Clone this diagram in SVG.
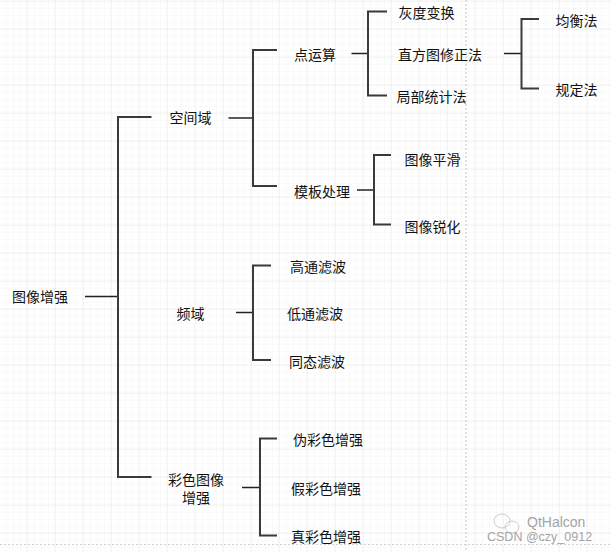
<svg xmlns="http://www.w3.org/2000/svg" width="611" height="552" viewBox="0 0 611 552">
<defs>
<pattern id="minor" x="27" y="1" width="7" height="7" patternUnits="userSpaceOnUse">
<path d="M0 0V7M0 0H7" fill="none" stroke="#f5f5f5" stroke-width="1"/>
</pattern>
<pattern id="major" x="26.5" y="0.5" width="28" height="28" patternUnits="userSpaceOnUse">
<path d="M0 0V28M0 0H28" fill="none" stroke="#e6e6e6" stroke-width="1"/>
</pattern>
</defs>
<style>
text{font-family:"Noto Sans CJK SC","Liberation Sans",sans-serif;font-size:14px;fill:#111;dominant-baseline:central;text-anchor:middle}
.br{fill:none;stroke:#3a3a3a;stroke-width:2}
.st{fill:none;stroke:#222;stroke-width:1.5}
.wm{font-family:"Liberation Sans",sans-serif;fill:#9a9a9a;text-anchor:start}
</style>
<rect width="611" height="552" fill="#ffffff"/>
<rect width="611" height="552" fill="url(#minor)"/>
<rect width="611" height="552" fill="url(#major)"/>
<line x1="466" y1="0" x2="466" y2="552" stroke="#cfcfcf" stroke-width="1.2" stroke-dasharray="2,2"/>
<line x1="0" y1="544.5" x2="611" y2="544.5" stroke="#cfcfcf" stroke-width="1.2" stroke-dasharray="2,2"/>
<g id="connectors">
<path class="st" d="M85 296.5H118"/>
<path class="br" d="M151.5 117H118V477H151.5"/>
<path class="st" d="M228.5 118H253"/>
<path class="br" d="M277 50H253V186H277"/>
<path class="st" d="M351.5 53.5H368"/>
<path class="br" d="M387 11.5H368V95.5H387"/>
<path class="st" d="M504 53.5H521.5"/>
<path class="br" d="M539 19H521.5V88.5H539"/>
<path class="st" d="M357 190H374"/>
<path class="br" d="M391 155H374V224.5H391"/>
<path class="st" d="M236 312.5H253"/>
<path class="br" d="M271 265.5H253V360H271"/>
<path class="st" d="M242 487.5H260"/>
<path class="br" d="M277 438.5H260V535.5H277"/>
</g>
<g id="n-root"><text x="40" y="296">图像增强</text></g>
<g id="n-spatial"><text x="190.5" y="116.5">空间域</text></g>
<g id="n-point"><text x="315" y="53.5">点运算</text></g>
<g id="n-template"><text x="322" y="190.5">模板处理</text></g>
<g id="n-gray"><text x="426.5" y="12">灰度变换</text></g>
<g id="n-hist"><text x="440" y="54">直方图修正法</text></g>
<g id="n-local"><text x="431.5" y="96">局部统计法</text></g>
<g id="n-equal"><text x="576.5" y="19.5">均衡法</text></g>
<g id="n-spec"><text x="576.5" y="88.5">规定法</text></g>
<g id="n-smooth"><text x="432.5" y="158.5">图像平滑</text></g>
<g id="n-sharpen"><text x="432.5" y="225.5">图像锐化</text></g>
<g id="n-freq"><text x="190.5" y="312.5">频域</text></g>
<g id="n-high"><text x="318" y="265.5">高通滤波</text></g>
<g id="n-low"><text x="315" y="312.5">低通滤波</text></g>
<g id="n-homo"><text x="317" y="360.5">同态滤波</text></g>
<g id="n-color"><text x="196" y="478.5">彩色图像</text><text x="196" y="497">增强</text></g>
<g id="n-pseudo"><text x="328" y="438.5">伪彩色增强</text></g>
<g id="n-false"><text x="326" y="487.5">假彩色增强</text></g>
<g id="n-true"><text x="326" y="536">真彩色增强</text></g>
<g id="watermark" opacity="0.9">
<ellipse cx="502" cy="521" rx="8" ry="7" fill="none" stroke="#c8c8c8" stroke-width="1"/>
<ellipse cx="512" cy="527" rx="7" ry="6" fill="none" stroke="#c8c8c8" stroke-width="1"/>
<text class="wm" x="527" y="522" style="font-size:14px">QtHalcon</text>
<text class="wm" x="487" y="536.5" style="font-size:12.5px">CSDN @czy_0912</text>
</g>
</svg>
